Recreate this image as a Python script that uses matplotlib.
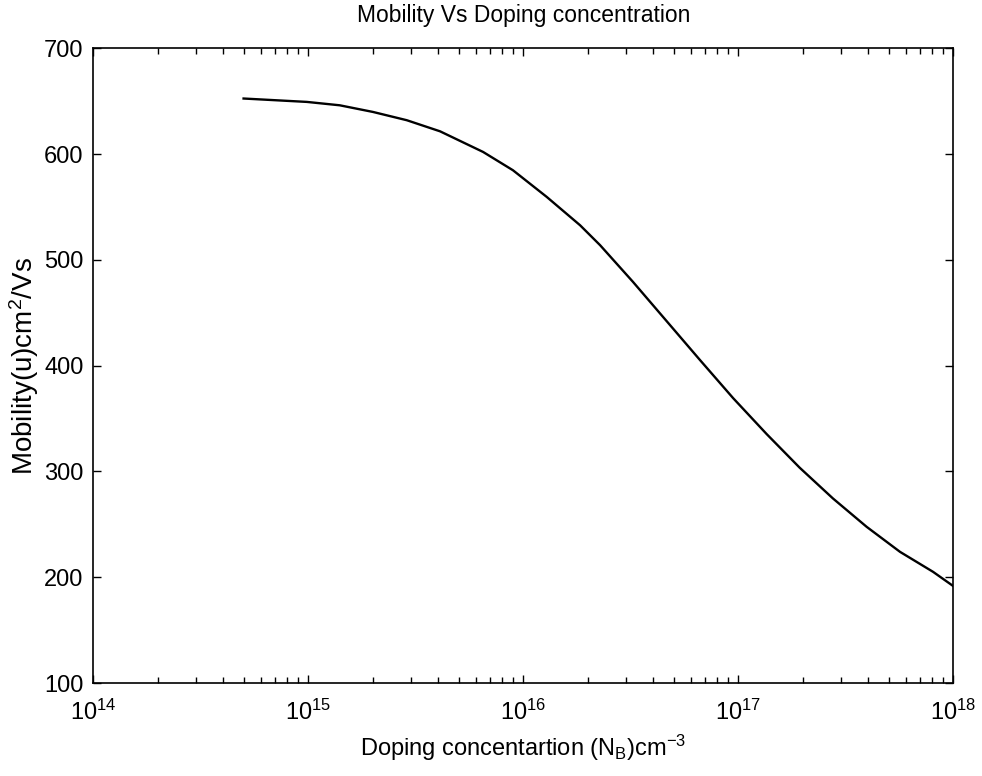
import matplotlib

matplotlib.use('Agg')
import matplotlib.pyplot as plt
from matplotlib.ticker import LogLocator, NullFormatter

plt.rcParams['font.family'] = ['Liberation Sans', 'DejaVu Sans']
plt.rcParams['mathtext.fontset'] = 'custom'
plt.rcParams['mathtext.rm'] = 'Liberation Sans'
plt.rcParams['mathtext.it'] = 'Liberation Sans'

# doping concentration (cm^-3) and mobility (cm^2/Vs)
doping = [5.0e14, 9.84e14, 1.40e15, 2.0e15, 2.87e15, 4.10e15, 6.5e15, 8.95e15,
          1.285e16, 1.837e16, 2.275e16, 3.236e16, 4.645e16, 6.64e16, 9.46e16,
          1.355e17, 1.928e17, 2.754e17, 3.95e17, 5.65e17, 8.05e17, 1.0e18]
mobility = [652.5, 649.3, 646.1, 639.8, 632.0, 621.5, 602.0, 584.7,
            559.5, 532.7, 513.9, 479.2, 442.0, 405.2, 369.3,
            335.3, 303.6, 274.5, 247.7, 224.0, 205.1, 191.6]

x_ticks = [1e14, 1e15, 1e16, 1e17, 1e18]
x_ticklabels = [r'$10^{14}$', r'$10^{15}$', r'$10^{16}$', r'$10^{17}$', r'$10^{18}$']
y_ticks = [100, 200, 300, 400, 500, 600, 700]

fig = plt.figure(figsize=(9.82, 7.76), dpi=100)
ax = fig.add_axes([0.095, 0.1198, 0.8758, 0.818])

ax.plot(doping, mobility, color='black', linewidth=1.7)

ax.set_xscale('log')
ax.set_xlim(1e14, 1e18)
ax.set_ylim(100, 700)
ax.set_xticks(x_ticks)
ax.set_xticklabels(x_ticklabels)
ax.xaxis.set_minor_locator(LogLocator(base=10, subs=range(2, 10)))
ax.xaxis.set_minor_formatter(NullFormatter())
ax.set_yticks(y_ticks)

ax.tick_params(which='both', direction='in', top=True, right=True,
               labelsize=17, width=1)
ax.tick_params(axis='x', pad=12)
ax.tick_params(axis='y', pad=7)
ax.tick_params(which='major', length=6)
ax.tick_params(which='minor', length=4)
for s in ax.spines.values():
    s.set_linewidth(1.2)

ax.set_title('Mobility Vs Doping concentration', fontsize=16.5, pad=19)
ax.set_xlabel(r'Doping concentartion (N$_{\mathrm{B}}$)cm$^{-3}$', fontsize=17, labelpad=6)
ax.set_ylabel(r'Mobility(u)cm$^{2}$/Vs', fontsize=20, labelpad=2)

fig.savefig('out.png', dpi=100)
